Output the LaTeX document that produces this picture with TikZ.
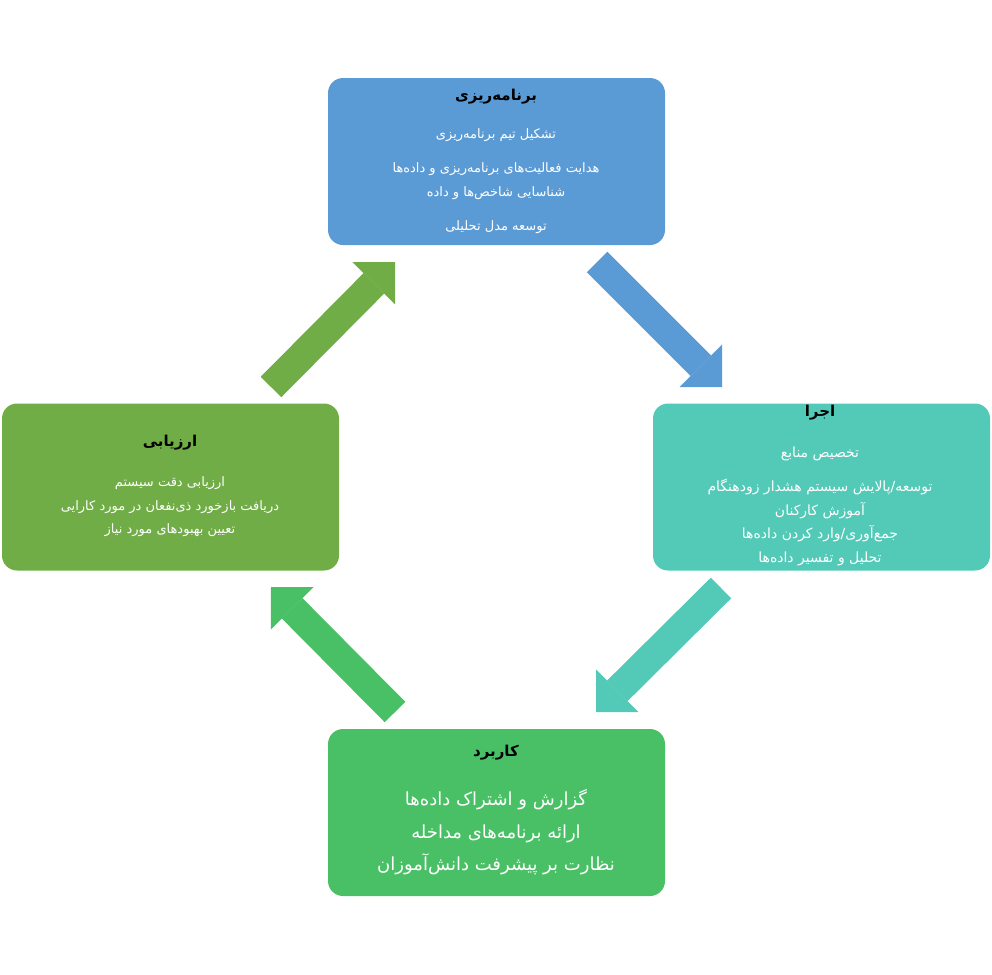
\documentclass[tikz,border=0pt]{standalone}
\usepackage{fontspec}
\usetikzlibrary{arrows.meta}
\TeXXeTstate=1
\newfontfamily\farsi[Script=Arabic]{DejaVu Sans}
\newcommand{\fatxt}[1]{\beginR#1\endR}
\definecolor{planblue}{RGB}{91,155,213}
\definecolor{runteal}{RGB}{83,201,183}
\definecolor{evalgreen}{RGB}{112,173,71}
\definecolor{usegreen}{RGB}{74,192,102}
\begin{document}
\begin{tikzpicture}[x=1pt,y=-1pt,
		box/.style={rounded corners=15pt,minimum width=337pt,minimum height=167pt,inner sep=0pt},
		title/.style={font=\farsi\bfseries\fontsize{15}{18}\selectfont,text=black},
		body/.style={font=\farsi\fontsize{13}{23.5}\selectfont,text=white,align=center},
		flow/.style={line width=29pt,-{Triangle[length=30pt,width=60pt,line width=0pt]}}]
		\useasboundingbox (0,0) rectangle (992,974);
		% four stages
		\node[box,fill=planblue] (plan) at (496.5,161.5) {};
		\node[box,fill=runteal] (run) at (821.5,487) {};
		\node[box,fill=evalgreen] (eval) at (170.5,487) {};
		\node[box,fill=usegreen] (use) at (496.5,812.5) {};
		%
		\node[title] (plantitle) at (496,97) {\fatxt{برنامه‌ریزی}};
		\node[body] (plantext) at (496,181) {\fatxt{تشکیل تیم برنامه‌ریزی}\\[11pt]\fatxt{هدایت فعالیت‌های برنامه‌ریزی و داده‌ها}\\\fatxt{شناسایی شاخص‌ها و داده}\\[11pt]\fatxt{توسعه مدل تحلیلی}};
		\node[title] (runtitle) at (820,413) {\fatxt{اجرا}};
		\node[body,font=\farsi\fontsize{14}{23.7}\selectfont] (runtext) at (820,506.5) {\fatxt{تخصیص منابع}\\[10pt]\fatxt{توسعه/پالایش سیستم هشدار زودهنگام}\\\fatxt{آموزش کارکنان}\\\fatxt{جمع‌آوری/وارد کردن داده‌ها}\\\fatxt{تحلیل و تفسیر داده‌ها}};
		\node[title] (evaltitle) at (170,443) {\fatxt{ارزیابی}};
		\node[body] (evaltext) at (170,507) {\fatxt{ارزیابی دقت سیستم}\\\fatxt{دریافت بازخورد ذی‌نفعان در مورد کارایی}\\\fatxt{تعیین بهبودهای مورد نیاز}};
		\node[title] (usetitle) at (496,753) {\fatxt{کاربرد}};
		\node[body,font=\farsi\fontsize{18}{32.5}\selectfont] (usetext) at (496,832.5) {\fatxt{گزارش و اشتراک داده‌ها}\\\fatxt{ارائه برنامه‌های مداخله}\\\fatxt{نظارت بر پیشرفت دانش‌آموزان}};
		% arrows between stages
		\coordinate (planout) at (597,262); \coordinate (runin) at (722,387);
		\coordinate (runout) at (721,588); \coordinate (usein) at (596,712);
		\coordinate (useout) at (395,712); \coordinate (evalin) at (271,587);
		\coordinate (evalout) at (271,387); \coordinate (planin) at (395,262);
		\draw[flow,planblue] (planout) -- (runin);
		\draw[flow,runteal] (runout) -- (usein);
		\draw[flow,usegreen] (useout) -- (evalin);
		\draw[flow,evalgreen] (evalout) -- (planin);
	\end{tikzpicture}
\end{document}
